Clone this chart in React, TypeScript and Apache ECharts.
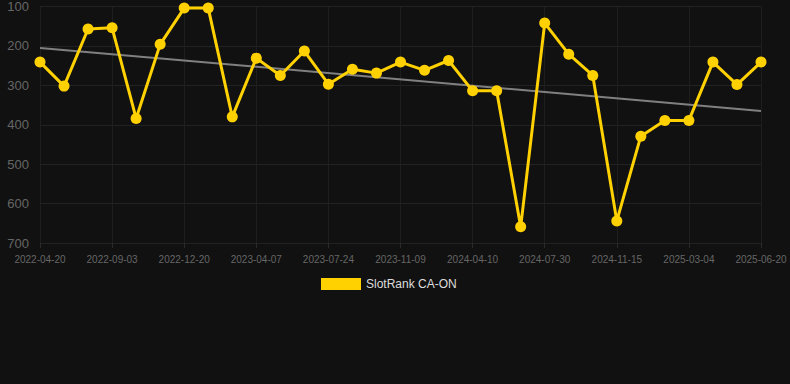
import React, { useEffect, useRef } from "react";
import * as echarts from "echarts";

const categories = [
  "2022-04-20", "2022-06-03", "2022-07-19", "2022-09-03", "2022-10-08", "2022-11-14",
  "2022-12-20", "2023-01-26", "2023-03-02", "2023-04-07", "2023-05-12", "2023-06-18",
  "2023-07-24", "2023-08-28", "2023-10-04", "2023-11-09", "2023-12-30", "2024-02-19",
  "2024-04-10", "2024-05-17", "2024-06-23", "2024-07-30", "2024-09-05", "2024-10-10",
  "2024-11-15", "2024-12-22", "2025-01-27", "2025-03-04", "2025-04-08", "2025-05-15",
  "2025-06-20",
];

const rankValues = [
  241, 302, 157, 154, 384, 196, 104, 104, 380, 231, 275, 213, 297, 259, 269, 241,
  262, 237, 314, 314, 659, 142, 221, 275, 644, 429, 389, 389, 241, 298, 241,
];

const trendValues = [205, 365];

const yTicks = { min: 100, max: 700, interval: 100 };

export default function App() {
  const ref = useRef<HTMLDivElement>(null);
  useEffect(() => {
    document.body.style.margin = "0";
    document.body.style.background = "#111111";
    const chart = echarts.init(ref.current!, null, { renderer: "svg" });
    chart.setOption({
      animation: false,
      backgroundColor: "#111111",
      grid: { left: 40, right: 29, top: 6, bottom: 141 },
      legend: {
        data: [{ name: "SlotRank CA-ON", icon: "rect" }],
        top: 273,
        left: 316,
        itemWidth: 40,
        itemHeight: 12,
        textStyle: { color: "#dddddd", fontSize: 12, fontFamily: "Liberation Sans, Arial, sans-serif" },
      },
      xAxis: {
        type: "category",
        data: categories,
        boundaryGap: false,
        axisLine: { show: false },
        axisTick: { show: true, interval: 2, length: 5, lineStyle: { color: "#2a2a2a" } },
        axisLabel: {
          interval: 2,
          color: "#666666",
          fontSize: 10,
          margin: 11,
          fontFamily: "Liberation Sans, Arial, sans-serif",
        },
        splitLine: { show: true, interval: 2, lineStyle: { color: "#1e1e1e", width: 1 } },
      },
      yAxis: {
        type: "value",
        inverse: true,
        min: yTicks.min,
        max: yTicks.max,
        interval: yTicks.interval,
        axisLine: { show: false },
        axisTick: { show: false },
        axisLabel: {
          color: "#666666",
          fontSize: 13,
          margin: 11,
          fontFamily: "Liberation Sans, Arial, sans-serif",
        },
        splitLine: { lineStyle: { color: "#222222", width: 1 } },
      },
      series: [
        {
          name: "SlotRank CA-ON",
          type: "line",
          data: rankValues,
          symbol: "circle",
          symbolSize: 11,
          itemStyle: { color: "#FFD100" },
          lineStyle: { color: "#FFD100", width: 3 },
          z: 3,
        },
        {
          name: "Trend",
          type: "line",
          data: [
            [0, trendValues[0]],
            [categories.length - 1, trendValues[1]],
          ],
          symbol: "none",
          lineStyle: { color: "#808080", width: 2 },
          z: 2,
          silent: true,
        },
      ],
    });
    return () => chart.dispose();
  }, []);
  return <div ref={ref} style={{ width: 790, height: 384 }} />;
}
